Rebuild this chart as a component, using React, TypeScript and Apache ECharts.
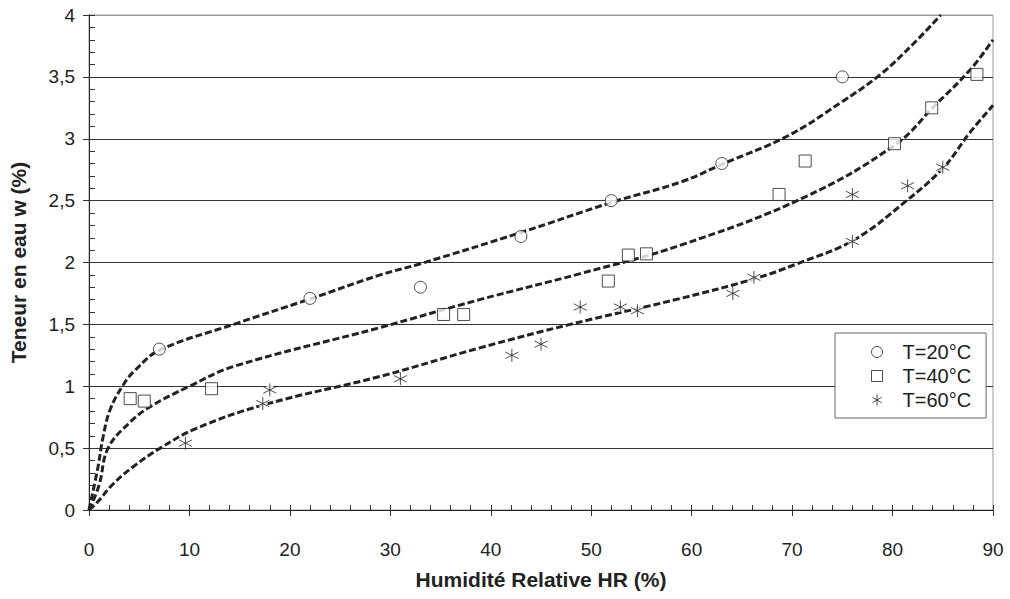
import React, { useEffect, useRef } from "react";
import * as echarts from "echarts";

// Measured points
const hr20 = [7, 22, 33, 43, 52, 63, 75];
const w20 = [1.3, 1.71, 1.8, 2.21, 2.5, 2.8, 3.5];
const hr40 = [4.1, 5.5, 12.2, 35.3, 37.3, 51.7, 53.7, 55.5, 68.7, 71.3, 80.2, 83.9, 88.4];
const w40 = [0.9, 0.88, 0.98, 1.58, 1.58, 1.85, 2.06, 2.07, 2.55, 2.82, 2.96, 3.25, 3.52];
const hr60 = [9.6, 17.3, 18.0, 31.0, 42.1, 45.0, 48.9, 52.9, 54.6, 64.1, 66.2, 76.0, 76.0, 81.5, 85.0];
const w60 = [0.54, 0.86, 0.97, 1.06, 1.25, 1.34, 1.64, 1.64, 1.61, 1.75, 1.88, 2.17, 2.55, 2.62, 2.77];

// Fitted curves
const fitHr20 = [0, 0.9, 1.4, 2.1, 3.4, 4.6, 7, 14.4, 22, 29, 33, 42.9, 52.2, 58.9, 63.2, 69.5, 74.8, 78.8, 82.1, 84.8];
const fitW20 = [0, 0.35, 0.59, 0.81, 1.01, 1.13, 1.29, 1.5, 1.705, 1.9, 1.99, 2.24, 2.49, 2.65, 2.8, 3.02, 3.29, 3.52, 3.77, 4.0];
const fitHr40 = [0, 1.0, 1.9, 4.1, 6.1, 10, 14.4, 29, 38.9, 48.9, 58.9, 71.3, 80.4, 84.1, 87.7, 90];
const fitW40 = [0, 0.2, 0.5, 0.71, 0.835, 1.0, 1.16, 1.475, 1.7, 1.91, 2.14, 2.53, 2.96, 3.26, 3.555, 3.8];
const fitHr60 = [0, 0.8, 2.4, 4.4, 7.1, 10.7, 17.4, 29, 38.9, 47.9, 58.9, 66.3, 70.5, 76.1, 81.4, 85.1, 87.7, 90];
const fitW60 = [0, 0.06, 0.21, 0.35, 0.5, 0.66, 0.85, 1.08, 1.31, 1.5, 1.71, 1.87, 1.99, 2.18, 2.5, 2.77, 3.05, 3.27];

const seriesNames = ["T=20°C", "T=40°C", "T=60°C"];
const xTitle = "Humidité Relative HR (%)";
const yTitle = "Teneur en eau w (%)";

const STAR = "path://M5 0 L5 10 M0.7 2.5 L9.3 7.5 M0.7 7.5 L9.3 2.5";
const FONT = "Liberation Sans, Arial, sans-serif";

const zip = (xs: number[], ys: number[]) => xs.map((x, i) => [x, ys[i]]);

export default function App() {
  const ref = useRef<HTMLDivElement>(null);
  useEffect(() => {
    if (!ref.current) return;
    const chart = echarts.init(ref.current, undefined, { renderer: "svg" });
    const dash = { color: "#222", width: 3, type: [7, 3] as any };
    const curve = (d: number[][]) => ({
      type: "line",
      data: d,
      showSymbol: false,
      symbol: "none",
      smooth: 0.4,
      lineStyle: dash,
      silent: true,
      z: 2,
    });
    const markerStyle = { color: "#fff", borderColor: "#222", borderWidth: 1 };
    const splitColors = Array.from({ length: 9 }, (_, i) => (i === 8 ? "#999" : "#333"));
    const tick = () => ({ color: "#333", width: 1 });
    const axisLine = () => ({ color: "#222", width: 1 });
    chart.setOption({
      animation: false,
      backgroundColor: "#fff",
      textStyle: { fontFamily: FONT },
      grid: {
        left: 89,
        right: 17,
        top: 15,
        bottom: 89,
        show: true,
        borderColor: "#999",
        borderWidth: 1,
        backgroundColor: "transparent",
      },
      legend: {
        data: seriesNames,
        orient: "vertical",
        left: 835,
        top: 333,
        padding: [9, 15, 8, 36],
        itemWidth: 11,
        itemHeight: 11,
        itemGap: 4,
        backgroundColor: "#fff",
        borderColor: "#666",
        borderWidth: 1,
        borderRadius: 0,
        itemStyle: { borderWidth: 1, borderColor: "#222", color: "#fff" },
        textStyle: { fontSize: 20, color: "#222", fontFamily: FONT, padding: [0, 0, 0, 15] },
      },
      xAxis: [
        {
          type: "value",
          min: 0,
          max: 90,
          interval: 10,
          position: "bottom",
          name: xTitle,
          nameLocation: "middle",
          nameGap: 59,
          nameTextStyle: { fontSize: 21, fontWeight: "bold", color: "#222", fontFamily: FONT },
          axisLine: { show: true, onZero: false, lineStyle: axisLine() },
          axisTick: { show: true, inside: false, length: 6, lineStyle: tick() },
          axisLabel: { fontSize: 19, color: "#222", margin: 30, fontFamily: FONT },
          splitLine: { show: false },
        },
        {
          type: "value",
          min: 0,
          max: 90,
          interval: 10,
          position: "bottom",
          axisLine: { show: true, onZero: false, lineStyle: axisLine() },
          axisTick: { show: true, inside: true, length: 5, lineStyle: tick() },
          minorTick: { show: true, splitNumber: 5, length: 5, lineStyle: tick() },
          axisLabel: { show: false },
          splitLine: { show: false },
        },
      ],
      yAxis: [
        {
          type: "value",
          min: 0,
          max: 4,
          interval: 0.5,
          position: "left",
          name: yTitle,
          nameLocation: "middle",
          nameGap: 60,
          nameTextStyle: { fontSize: 21, fontWeight: "bold", color: "#222", fontFamily: FONT },
          axisLine: { show: true, onZero: false, lineStyle: axisLine() },
          axisTick: { show: true, inside: false, length: 6, lineStyle: tick() },
          axisLabel: {
            fontSize: 19,
            color: "#222",
            margin: 14,
            fontFamily: FONT,
            formatter: (v: number) => String(v).replace(".", ","),
          },
          splitLine: { show: true, lineStyle: { color: splitColors, width: 1 } },
        },
        {
          type: "value",
          min: 0,
          max: 4,
          interval: 0.5,
          position: "left",
          axisLine: { show: true, onZero: false, lineStyle: axisLine() },
          axisTick: { show: true, inside: true, length: 6, lineStyle: tick() },
          minorTick: { show: true, splitNumber: 5, length: 6, lineStyle: tick() },
          axisLabel: { show: false },
          splitLine: { show: false },
        },
      ],
      series: [
        { ...curve(zip(fitHr20, fitW20)), name: "fit20" },
        { ...curve(zip(fitHr40, fitW40)), name: "fit40" },
        { ...curve(zip(fitHr60, fitW60)), name: "fit60" },
        {
          type: "scatter",
          name: "bg60",
          xAxisIndex: 1,
          yAxisIndex: 1,
          data: zip(hr60, w60),
          symbol: "circle",
          symbolSize: 10,
          itemStyle: { color: "#fff", borderWidth: 0 },
          silent: true,
          z: 3,
        },
        {
          type: "scatter",
          name: seriesNames[0],
          data: zip(hr20, w20),
          symbol: "circle",
          symbolSize: 12,
          itemStyle: markerStyle,
          z: 4,
        },
        {
          type: "scatter",
          name: seriesNames[1],
          data: zip(hr40, w40),
          symbol: "rect",
          symbolSize: 12,
          itemStyle: markerStyle,
          z: 4,
        },
        {
          type: "scatter",
          name: seriesNames[2],
          data: zip(hr60, w60),
          symbol: STAR,
          symbolSize: 13,
          itemStyle: { color: "transparent", borderColor: "#222", borderWidth: 1 },
          z: 4,
        },
      ],
    });
    return () => chart.dispose();
  }, []);
  return <div ref={ref} style={{ width: 1010, height: 599, position: "fixed", left: 0, top: 0 }} />;
}
